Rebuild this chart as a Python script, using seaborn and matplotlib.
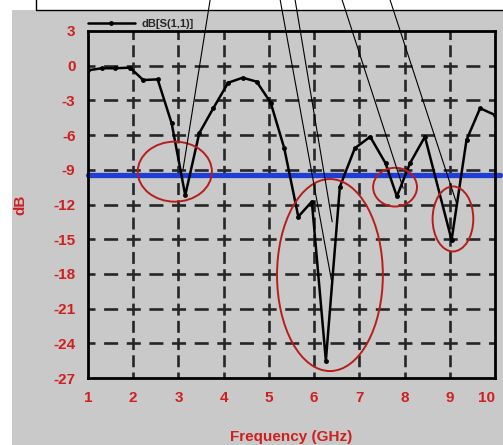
import matplotlib
matplotlib.use('Agg')
from matplotlib import pyplot as plt
from matplotlib.patches import Ellipse, Rectangle
import seaborn as sns
import pandas as pd

# S11 curve
freq = [1.0, 1.30, 1.60, 1.93, 2.22, 2.54, 2.85, 3.15, 3.46, 3.77, 4.10, 4.42, 4.73,
        5.04, 5.34, 5.65, 5.95, 6.26, 6.57, 6.90, 7.24, 7.58, 7.83, 8.12, 8.45, 9.04,
        9.37, 9.67, 10.0]
s11 = [-0.4, -0.22, -0.22, -0.17, -1.24, -1.18, -4.98, -11.2, -5.84, -3.68, -1.47, -1.04, -1.38,
       -3.2, -7.14, -13.05, -11.75, -25.5, -10.46, -7.14, -6.14, -8.44, -11.3, -8.44, -6.14, -15.07,
       -6.42, -3.68, -4.26]
threshold = -9.45

# red circles: centre freq, centre dB, width (GHz), height (dB)
circ_x = [2.92, 6.35, 7.79, 9.07]
circ_y = [-9.16, -18.1, -10.5, -13.25]
circ_w = [1.64, 2.34, 0.97, 0.90]
circ_h = [5.19, 16.6, 3.35, 5.62]

# thin callout lines from the box above the plot
call_x0 = [3.70, 5.25, 5.58, 6.62, 7.68]
call_x1 = [3.10, 6.40, 6.40, 7.97, 9.16]
call_y0 = 5.68
call_y1 = [-9.0, -18.9, -13.5, -10.6, -12.0]

xticks = [1, 2, 3, 4, 5, 6, 7, 8, 9, 10]
yticks = [3, 0, -3, -6, -9, -12, -15, -18, -21, -24, -27]

df = pd.DataFrame({'freq': freq, 's11': s11})

sns.set_theme(style='white')
plt.rcParams['font.family'] = ['Liberation Sans', 'DejaVu Sans']
plt.rcParams['lines.scale_dashes'] = False
plt.rcParams['axes.unicode_minus'] = False

grey = '#c9c9c9'
red = '#cf1f1f'

fig = plt.figure(figsize=(5.03, 4.45), dpi=100, facecolor='white')
fig.patches.append(Rectangle((12 / 503, 0), 1, 1 - 10 / 445, transform=fig.transFigure,
                             facecolor=grey, edgecolor='none', zorder=-10))
fig.patches.append(Rectangle((36 / 503, 1 - 9.5 / 445), 1, 0.1, transform=fig.transFigure,
                             facecolor='white', edgecolor='black', lw=1, zorder=-5))
ax = fig.add_axes([88 / 503, 1 - 378 / 445, 407 / 503, 347 / 445])
ax.set_facecolor(grey)

# dashed grid, dashes crossing at each grid intersection
for x in xticks[1:-1]:
    ax.axvline(x, color='#262626', lw=1.9, linestyle=(4.3, (8.6, 3.8)), zorder=1)
for y in yticks[1:-1]:
    ax.axhline(y, color='#262626', lw=1.9, linestyle=(5.05, (10.1, 6.2)), zorder=1)

ax.plot([1, 10.12], [threshold, threshold], color='#1e3ed6', lw=3.8, zorder=4, clip_on=False)

sns.lineplot(data=df, x='freq', y='s11', ax=ax, color='black', lw=1.8, marker='o',
             markersize=3.5, markeredgewidth=0, label='dB[S(1,1)]', zorder=5)

for cx, cy, w, h in zip(circ_x, circ_y, circ_w, circ_h):
    ax.add_patch(Ellipse((cx, cy), w, h, fill=False, edgecolor='#b81c1c', lw=1.4, zorder=6))

for x0, x1, y1 in zip(call_x0, call_x1, call_y1):
    ax.plot([x0, x1], [call_y0, y1], color='black', lw=0.8, zorder=7, clip_on=False)

ax.set_xlim(1, 10)
ax.set_ylim(-27, 3)
ax.set_xticks(xticks)
ax.set_yticks(yticks)
ax.tick_params(length=0, labelsize=11, labelcolor=red, pad=9)
for lab in ax.get_xticklabels() + ax.get_yticklabels():
    lab.set_fontweight('bold')
ax.get_xticklabels()[-1].set_horizontalalignment('right')
ax.set_xlabel('Frequency (GHz)', color=red, fontsize=11, fontweight='bold', labelpad=18)
ax.set_ylabel('dB', color=red, fontsize=11, fontweight='bold')
ax.yaxis.set_label_coords(-0.148, 0.5)
for s in ax.spines.values():
    s.set_visible(True)
    s.set_color('black')
    s.set_linewidth(2)
    s.set_zorder(8)

ax.legend(loc='lower left', bbox_to_anchor=(0, 1.005), frameon=False,
          handlelength=4.2, handletextpad=0.6, borderpad=0, borderaxespad=0,
          prop={'weight': 'bold', 'size': 8})

fig.savefig('out.png', dpi=100, facecolor='white')
